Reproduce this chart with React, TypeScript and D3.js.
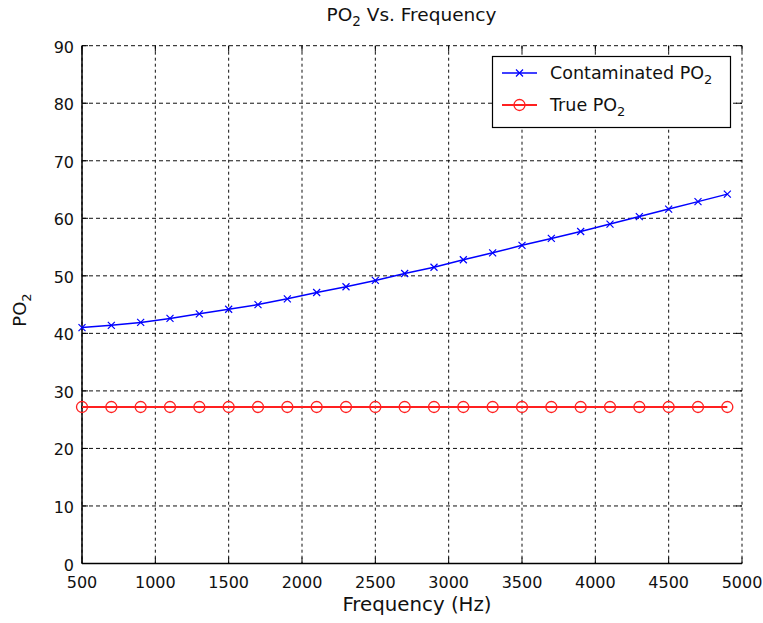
import React from "react";
import * as d3 from "d3";

const frequencies = [500, 700, 900, 1100, 1300, 1500, 1700, 1900, 2100, 2300, 2500, 2700, 2900, 3100, 3300, 3500, 3700, 3900, 4100, 4300, 4500, 4700, 4900];
const contaminatedPO2 = [41.0, 41.4, 41.9, 42.6, 43.4, 44.2, 45.0, 46.0, 47.1, 48.1, 49.2, 50.4, 51.5, 52.8, 54.0, 55.3, 56.5, 57.7, 59.0, 60.3, 61.6, 62.9, 64.2];
const truePO2 = [27.2, 27.2, 27.2, 27.2, 27.2, 27.2, 27.2, 27.2, 27.2, 27.2, 27.2, 27.2, 27.2, 27.2, 27.2, 27.2, 27.2, 27.2, 27.2, 27.2, 27.2, 27.2, 27.2];
const xTicks = [500, 1000, 1500, 2000, 2500, 3000, 3500, 4000, 4500, 5000];
const yTicks = [0, 10, 20, 30, 40, 50, 60, 70, 80, 90];

const W = 763;
const H = 623;
const left = 82;
const right = 742;
const top = 45.7;
const bottom = 563.5;
const FONT = "'DejaVu Sans', sans-serif";

export default function App() {
  const x = d3.scaleLinear().domain([500, 5000]).range([left, right]);
  const y = d3.scaleLinear().domain([0, 90]).range([bottom, top]);
  const line = d3
    .line<[number, number]>()
    .x((d) => x(d[0]))
    .y((d) => y(d[1]));
  const blue = frequencies.map((f, i) => [f, contaminatedPO2[i]] as [number, number]);
  const red = frequencies.map((f, i) => [f, truePO2[i]] as [number, number]);
  const grid = "#111";
  const tick = 6;

  const xMark = (cx: number, cy: number, key: string | number) => (
    <path
      key={key}
      d={`M${cx - 3.5},${cy - 3.5}L${cx + 3.5},${cy + 3.5}M${cx - 3.5},${cy + 3.5}L${cx + 3.5},${cy - 3.5}`}
      stroke="#0000ff"
      strokeWidth={1.2}
      fill="none"
    />
  );

  return (
    <svg
      width={W}
      height={H}
      style={{ position: "absolute", left: 0, top: 0, background: "#fff" }}
      fontFamily={FONT}
    >
      <rect x={0} y={0} width={W} height={H} fill="#fff" />
      {/* grid */}
      {xTicks.map((t) => (
        <line key={"gx" + t} x1={x(t)} x2={x(t)} y1={top} y2={bottom} stroke={grid} strokeWidth={1} strokeDasharray="3,3" />
      ))}
      {yTicks.map((t) => (
        <line key={"gy" + t} x1={left} x2={right} y1={y(t)} y2={y(t)} stroke={grid} strokeWidth={1} strokeDasharray="4,3" />
      ))}
      {/* ticks */}
      {xTicks.map((t) => (
        <g key={"tx" + t}>
          <line x1={x(t)} x2={x(t)} y1={bottom} y2={bottom - tick} stroke="#000" strokeWidth={1} />
          <line x1={x(t)} x2={x(t)} y1={top} y2={top + tick} stroke="#000" strokeWidth={1} />
          <text x={x(t)} y={588} textAnchor="middle" fontSize={16} fill="#111">
            {t}
          </text>
        </g>
      ))}
      {yTicks.map((t) => (
        <g key={"ty" + t}>
          <line x1={left} x2={left + tick} y1={y(t)} y2={y(t)} stroke="#000" strokeWidth={1} />
          <line x1={right} x2={right - tick} y1={y(t)} y2={y(t)} stroke="#000" strokeWidth={1} />
          <text x={74} y={y(t) + 7} textAnchor="end" fontSize={16} fill="#111">
            {t}
          </text>
        </g>
      ))}
      {/* axes */}
      <line x1={left} x2={left} y1={top} y2={bottom} stroke="#000" strokeWidth={1.5} />
      <line x1={left} x2={right} y1={bottom} y2={bottom} stroke="#000" strokeWidth={1.5} />

      {/* series */}
      <path d={line(red) || ""} fill="none" stroke="#ff2020" strokeWidth={2} />
      {red.map((d, i) => (
        <circle key={"rc" + i} cx={x(d[0])} cy={y(d[1])} r={5.5} fill="none" stroke="#ff2020" strokeWidth={1.3} />
      ))}
      <path d={line(blue) || ""} fill="none" stroke="#0000ff" strokeWidth={1.5} />
      {blue.map((d, i) => xMark(x(d[0]), y(d[1]), "bx" + i))}

      {/* legend */}
      <rect x={492.5} y={56.5} width={238} height={71} fill="#fff" stroke="#000" strokeWidth={1.2} />
      <line x1={502} x2={537} y1={73} y2={73} stroke="#0000ff" strokeWidth={1.5} />
      {xMark(519.5, 73, "legx")}
      <text x={550} y={79} fontSize={17.5} fill="#111">
        Contaminated PO<tspan dy={5} fontSize={13}>2</tspan>
      </text>
      <line x1={502} x2={537} y1={105} y2={105} stroke="#ff2020" strokeWidth={2} />
      <circle cx={519.5} cy={105} r={5.5} fill="none" stroke="#ff2020" strokeWidth={1.3} />
      <text x={550} y={111} fontSize={17.5} fill="#111">
        True PO<tspan dy={5} fontSize={13}>2</tspan>
      </text>

      {/* title */}
      <text x={411.5} y={21} textAnchor="middle" fontSize={18.5} fill="#111">
        PO<tspan dy={5} fontSize={13.5}>2</tspan>
        <tspan dy={-5}> Vs. Frequency</tspan>
      </text>
      {/* x label */}
      <text x={417} y={611} textAnchor="middle" fontSize={19.8} fill="#111">
        Frequency (Hz)
      </text>
      {/* y label */}
      <text transform="translate(26,310) rotate(-90)" textAnchor="middle" fontSize={18} fill="#111">
        PO<tspan dy={5} fontSize={13}>2</tspan>
      </text>
    </svg>
  );
}
